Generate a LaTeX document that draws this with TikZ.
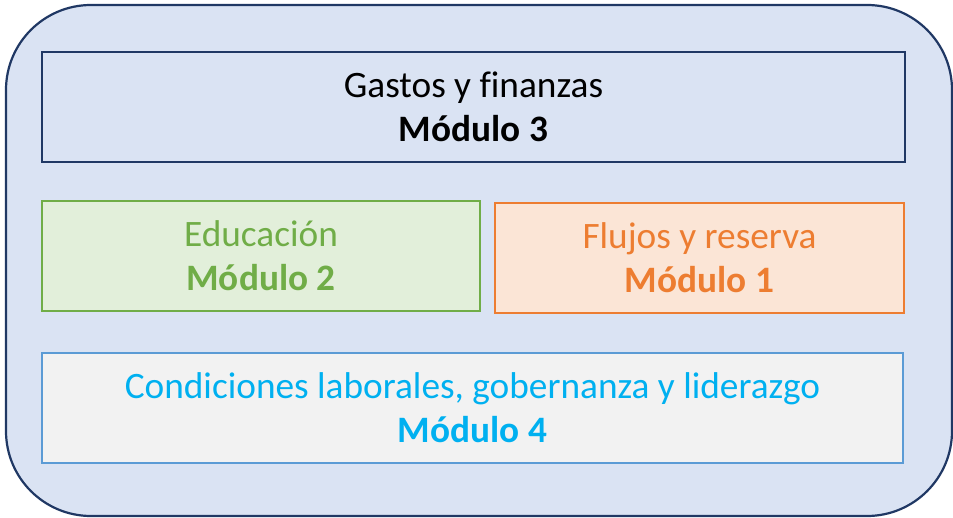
\documentclass[tikz,border=0pt]{standalone}
\usepackage{fontspec}
\setmainfont[Ligatures=NoCommon]{Carlito}
\usepackage{xcolor}
\usetikzlibrary{positioning}
\definecolor{navy}{HTML}{203864}
\definecolor{paleblue}{HTML}{DAE3F3}
\definecolor{leaf}{HTML}{70AD47}
\definecolor{paleleaf}{HTML}{E2EFDA}
\definecolor{amber}{HTML}{ED7D31}
\definecolor{paleamber}{HTML}{FBE5D6}
\definecolor{sky}{HTML}{00B0F0}
\definecolor{steel}{HTML}{5B9BD5}
\definecolor{mist}{HTML}{F2F2F2}

\begin{document}
\begin{tikzpicture}[
  x=1bp, y=-1bp,
  font=\fontsize{37.3bp}{44bp}\selectfont,
  every node/.style={align=center},
  frame/.style={rectangle, rounded corners=85bp, draw=navy, line width=2.2bp,
                fill=paleblue, inner sep=0pt, minimum width=946bp, minimum height=511bp},
  modbox/.style={rectangle, line width=1.4bp, inner sep=0pt, minimum height=110bp},
  gastos/.style={modbox, draw=navy, fill=paleblue, text=black, minimum width=863bp},
  educa/.style={modbox, draw=leaf, fill=paleleaf, text=leaf, minimum width=438bp},
  flujos/.style={modbox, draw=amber, fill=paleamber, text=amber, minimum width=409bp},
  labor/.style={modbox, draw=steel, fill=mist, text=sky, minimum width=861bp}
]
  \useasboundingbox (0,0) rectangle (953,518);
  \node[frame] (outer) at (479,260.5) {};

  \node[gastos] (mod3) at (473.5,107) {Gastos y finanzas\\\textbf{Módulo 3}};
  \node[educa] (mod2) at (261,256) {Educación\\\textbf{Módulo 2}};
  \node[flujos] (mod1) at (699.5,258) {Flujos y reserva\\\textbf{Módulo 1}};
  \node[labor] (mod4) at (472.5,408) {Condiciones laborales, gobernanza y liderazgo\\\textbf{Módulo 4}};
\end{tikzpicture}
\end{document}
